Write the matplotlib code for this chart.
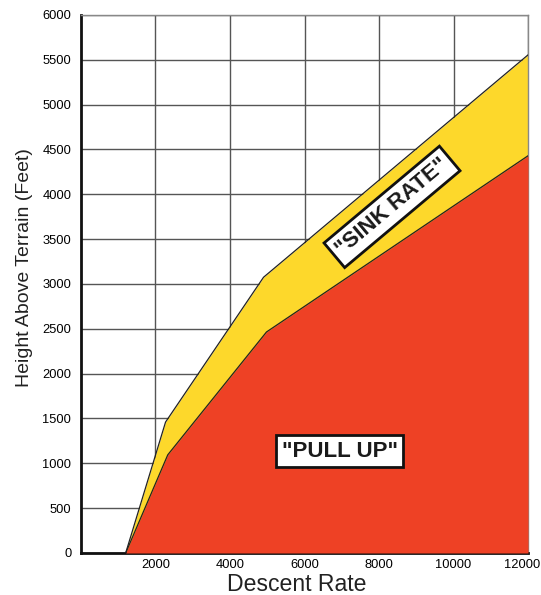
import matplotlib
matplotlib.use('Agg')
import matplotlib.pyplot as plt
from matplotlib.transforms import ScaledTranslation

plt.rcParams['font.family'] = ['Liberation Sans', 'DejaVu Sans']

# envelope boundaries (descent rate fpm, height ft)
sink_rate_x = [1200, 2270, 4900, 12000]
sink_rate_y = [0, 1460, 3075, 5555]
pull_up_x = [1200, 2330, 4980, 12000]
pull_up_y = [0, 1095, 2465, 4430]

x_ticks = [2000, 4000, 6000, 8000, 10000, 12000]
y_ticks = list(range(0, 6001, 500))

fig = plt.figure(figsize=(5.41, 5.95), dpi=100)
ax = fig.add_axes([0.1497, 0.0706, 0.8263, 0.9042])

yellow = '#fdd82b'
red = '#ee4125'

ax.fill_between(sink_rate_x, 0, sink_rate_y, color=yellow, lw=0, zorder=2)
ax.plot(sink_rate_x, sink_rate_y, color='#222222', lw=0.9, zorder=4)
ax.fill_between(pull_up_x, 0, pull_up_y, color=red, lw=0, zorder=3)
ax.plot(pull_up_x, pull_up_y, color='#222222', lw=0.9, zorder=4)

ax.set_xlim(0, 12000)
ax.set_ylim(0, 6000)
ax.set_xticks(x_ticks)
ax.set_yticks(y_ticks)
ax.set_xticklabels([str(t) for t in x_ticks], fontsize=9.3)
ax.set_yticklabels([str(t) for t in y_ticks], fontsize=9.3)
ax.tick_params(axis='x', length=0, pad=4)
ax.tick_params(axis='y', length=0, pad=7)
ax.grid(True, color='#555555', lw=1.0, zorder=1)
ax.set_axisbelow(True)

# last x label sits a little left so it stays inside the picture
last = ax.get_xticklabels()[-1]
last.set_transform(last.get_transform() + ScaledTranslation(-6 / 100, 0, fig.dpi_scale_trans))

for side in ['top', 'right']:
    ax.spines[side].set_color('#888888')
    ax.spines[side].set_linewidth(1.0)
for side in ['left', 'bottom']:
    ax.spines[side].set_color('#111111')
    ax.spines[side].set_linewidth(2.0)

ax.set_xlabel('Descent Rate', fontsize=16.6, color='#222222')
ax.xaxis.set_label_coords(0.483, -0.0705, transform=ax.transAxes)
ax.xaxis.label.set_va('baseline')
ax.set_ylabel('Height Above Terrain (Feet)', fontsize=14, color='#222222')
ax.yaxis.set_label_coords(-0.108, 0.531, transform=ax.transAxes)

box = dict(boxstyle='square,pad=0.25', fc='white', ec='#111111', lw=2)
ax.text(8350, 3860, '"SINK RATE"', rotation=40, ha='center', va='center',
        fontsize=16, fontweight='bold', color='#1a1a1a', bbox=box, zorder=6)
ax.text(6950, 1137, '"PULL UP"', ha='center', va='center',
        fontsize=16, fontweight='bold', color='#1a1a1a', bbox=box, zorder=6)

fig.savefig('out.png', dpi=100)
